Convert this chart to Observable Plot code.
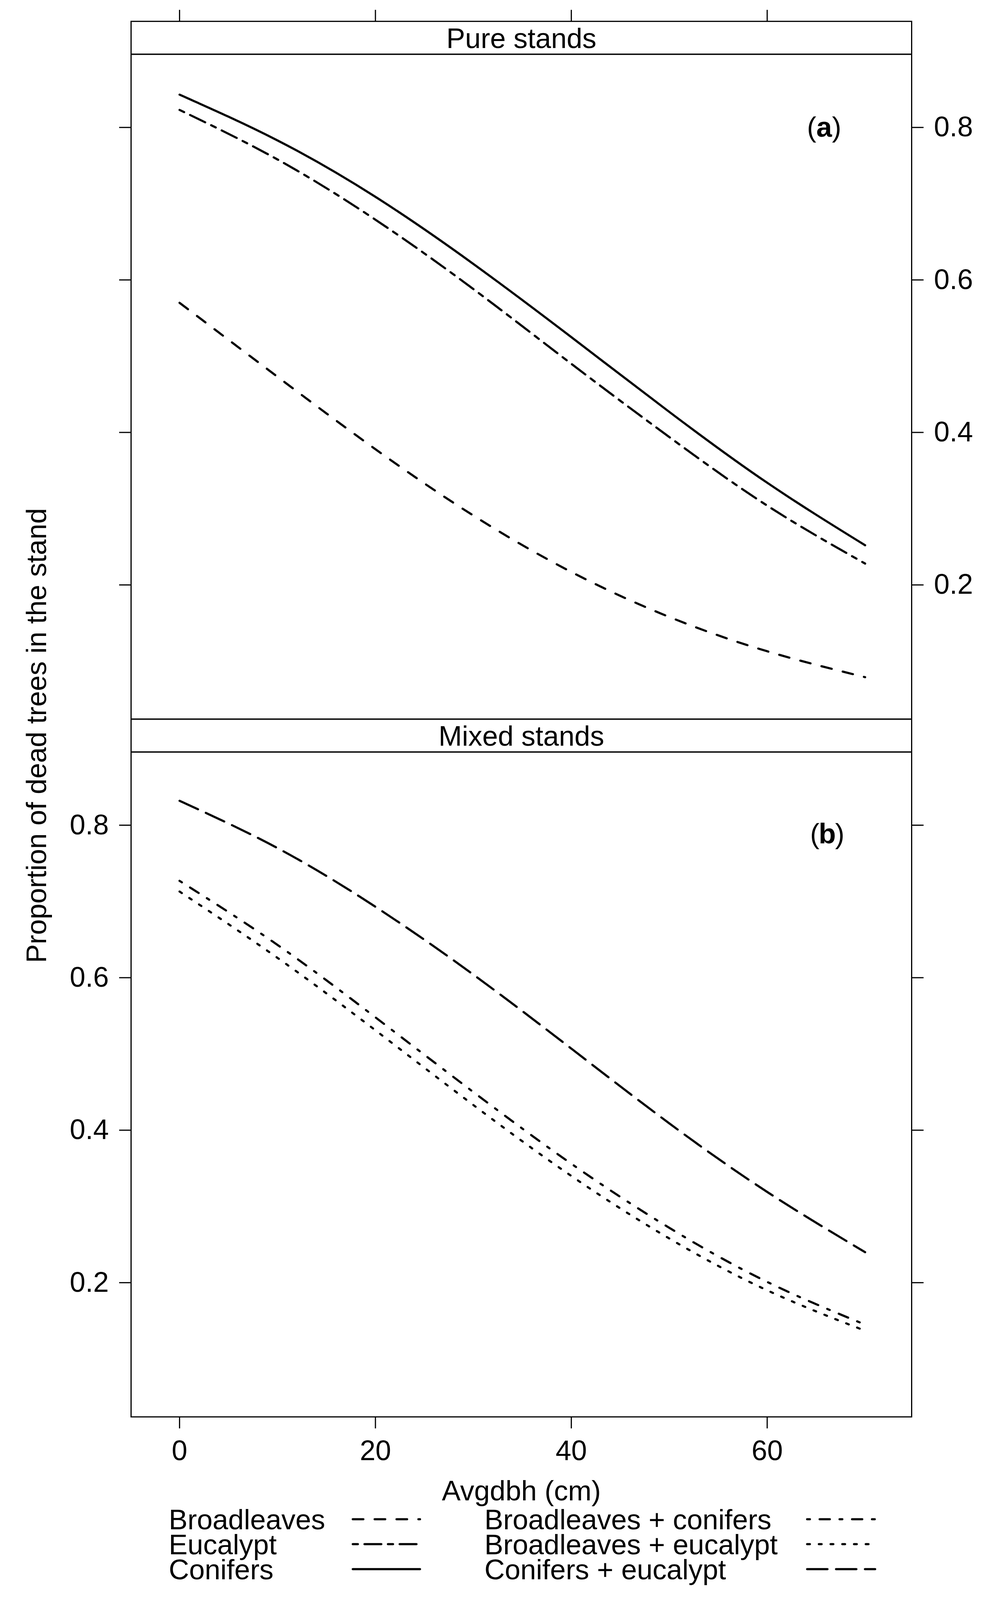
<!DOCTYPE html>
<html>
<head>
<meta charset="utf-8">
<script src="https://cdn.jsdelivr.net/npm/d3@7"></script>
<script src="https://cdn.jsdelivr.net/npm/@observablehq/plot@0.6"></script>
<style>
  html, body { margin: 0; padding: 0; background: #fff; overflow: hidden; }
  #wrap { position: relative; width: 2575px; background: #fff; }
  #wrap svg { display: block; }
</style>
</head>
<body>
<div id="wrap"></div>
<script>
// ---------- data ----------
const panels = ["Pure stands", "Mixed stands"];
const dbh = [0, 10, 20, 30, 40, 50, 60, 70];
const xTicks = [0, 20, 40, 60];
const yTicks = [0.2, 0.4, 0.6, 0.8];

// Pure stands
const broadleaves = [0.570, 0.473, 0.378, 0.291, 0.217, 0.158, 0.113, 0.079];
const eucalypt    = [0.823, 0.758, 0.679, 0.588, 0.490, 0.394, 0.304, 0.228];
const conifers    = [0.843, 0.783, 0.709, 0.621, 0.525, 0.427, 0.334, 0.252];
// Mixed stands
const broadleavesConifers = [0.727, 0.643, 0.548, 0.450, 0.356, 0.272, 0.201, 0.145];
const broadleavesEucalypt = [0.713, 0.626, 0.531, 0.433, 0.340, 0.258, 0.190, 0.137];
const conifersEucalypt    = [0.832, 0.770, 0.693, 0.604, 0.507, 0.409, 0.319, 0.240];

const seriesNames = ["Broadleaves", "Eucalypt", "Conifers",
  "Broadleaves + conifers", "Broadleaves + eucalypt", "Conifers + eucalypt"];
const seriesPanel = ["Pure stands", "Pure stands", "Pure stands",
  "Mixed stands", "Mixed stands", "Mixed stands"];
const seriesValues = [broadleaves, eucalypt, conifers,
  broadleavesConifers, broadleavesEucalypt, conifersEucalypt];

const xLabel = "Avgdbh (cm)";
const yLabel = "Proportion of dead trees in the stand";
const panelTags = ["a", "b"];

// ---------- styles ----------
const dashes = {
  "Broadleaves": "27,29",
  "Eucalypt": "13,17,43,17",
  "Conifers": null,
  "Broadleaves + conifers": "7,25,26,25",
  "Broadleaves + eucalypt": "7,23",
  "Conifers + eucalypt": "52,22"
};
const LW = 5.5;
const FS = 72;
const FONT = "'Liberation Sans', Arial, Helvetica, sans-serif";

// ---------- layout (fit the 4233px design into the visible window height) ----------
const REF_H = 4233;
const S = Math.min(1, (window.innerHeight || REF_H) / REF_H);
const vy = v => v * S;
document.getElementById("wrap").style.height = vy(REF_H) + "px";

const W = 2575, H = vy(3990);
const mL = 335, mR = 242, mT = vy(143), mB = H - vy(3748);
const strip = vy(87);
const innerH = H - mT - mB;
const bw = (innerH - strip) / 2;
const pInner = strip / (bw + strip);

const rows = seriesNames.flatMap((name, s) =>
  dbh.map((x, i) => ({group: name, panel: seriesPanel[s], dbh: x, p: seriesValues[s][i]})));

const lineMarks = seriesNames.map(name => Plot.line(rows.filter(r => r.group === name), {
  x: "dbh", y: "p", fy: "panel",
  stroke: "black", strokeWidth: LW,
  strokeDasharray: dashes[name] ?? undefined,
  strokeLinecap: "round", strokeLinejoin: "round",
  curve: "natural"
}));

const tagData = panelTags.map((t, i) => ({panel: panels[i], tag: t}));
const tagOffsets = [{dx: -224, dy: vy(194)}, {dx: -216, dy: vy(218)}];
const tagMarks = tagData.flatMap((d, i) => [
  Plot.text([d], {fy: "panel", text: () => "(", frameAnchor: "top-right", textAnchor: "end", lineAnchor: "middle",
    dx: tagOffsets[i].dx - 20, dy: tagOffsets[i].dy, fontSize: FS}),
  Plot.text([d], {fy: "panel", text: "tag", frameAnchor: "top-right", textAnchor: "middle", lineAnchor: "middle",
    dx: tagOffsets[i].dx, dy: tagOffsets[i].dy, fontSize: FS, fontWeight: "bold"}),
  Plot.text([d], {fy: "panel", text: () => ")", frameAnchor: "top-right", textAnchor: "start", lineAnchor: "middle",
    dx: tagOffsets[i].dx + 20, dy: tagOffsets[i].dy, fontSize: FS})
]);

const tickOpts = {tickSize: 30, strokeWidth: 3, label: null};

const chart = Plot.plot({
  width: W, height: H,
  marginLeft: mL, marginRight: mR, marginTop: mT, marginBottom: mB,
  style: {fontFamily: FONT, fontSize: FS + "px", color: "black", background: "white", overflow: "visible"},
  x: {domain: [-4.95, 74.75]},
  y: {domain: [0.024, 0.896]},
  fy: {domain: panels, axis: null, paddingInner: pInner, paddingOuter: 0, round: false},
  marks: [
    ...lineMarks,
    Plot.frame({stroke: "black", strokeWidth: 3}),
    Plot.frame({stroke: "black", strokeWidth: 3, insetTop: -strip, insetBottom: bw}),
    Plot.text(panels, {fy: d => d, text: d => d, frameAnchor: "top", lineAnchor: "middle",
      dy: -strip / 2 + 3, fontSize: FS}),
    ...tagMarks,
    Plot.axisY({...tickOpts, anchor: "right", facetAnchor: "top", ticks: yTicks, tickPadding: 27, fontSize: FS}),
    Plot.axisY({...tickOpts, anchor: "left", facetAnchor: "top", ticks: yTicks, tickFormat: () => ""}),
    Plot.axisY({...tickOpts, anchor: "left", facetAnchor: "bottom", ticks: yTicks, tickPadding: 27, fontSize: FS}),
    Plot.axisY({...tickOpts, anchor: "right", facetAnchor: "bottom", ticks: yTicks, tickFormat: () => ""}),
    Plot.axisX({...tickOpts, anchor: "top", facetAnchor: "top", ticks: xTicks, tickFormat: () => "", dy: -strip}),
    Plot.axisX({tickSize: 30, strokeWidth: 3, anchor: "bottom", facetAnchor: "bottom", ticks: xTicks,
      tickPadding: 30, fontSize: FS, label: null}),
    Plot.text([xLabel], {facet: "super", text: d => d, frameAnchor: "bottom", lineAnchor: "bottom",
      textAnchor: "middle", dy: vy(221), fontSize: FS}),
    Plot.text([yLabel], {facet: "super", text: d => d, frameAnchor: "left", rotate: -90,
      textAnchor: "middle", lineAnchor: "middle", dx: -241, fontSize: FS})
  ]
});
document.getElementById("wrap").appendChild(chart);

// ---------- legend (key below the plot) ----------
const leg = d3.select("#wrap").append("svg")
  .attr("width", W).attr("height", vy(REF_H) - H)
  .style("position", "absolute").style("left", "0px").style("top", H + "px")
  .style("overflow", "visible")
  .attr("font-family", FONT).attr("font-size", FS);
const colText = [432, 1240];
const colLine = [[903, 1075], [2066, 2240]];
const rowBase = [56, 122, 188].map(vy);
seriesNames.forEach((name, i) => {
  const c = Math.floor(i / 3), r = i % 3;
  leg.append("text").attr("x", colText[c]).attr("y", rowBase[r]).attr("fill", "black").text(name);
  const ln = leg.append("line")
    .attr("x1", colLine[c][0]).attr("x2", colLine[c][1])
    .attr("y1", rowBase[r] - 26).attr("y2", rowBase[r] - 26)
    .attr("stroke", "black").attr("stroke-width", LW).attr("stroke-linecap", "round");
  if (dashes[name]) ln.attr("stroke-dasharray", dashes[name]);
});
</script>
</body>
</html>
